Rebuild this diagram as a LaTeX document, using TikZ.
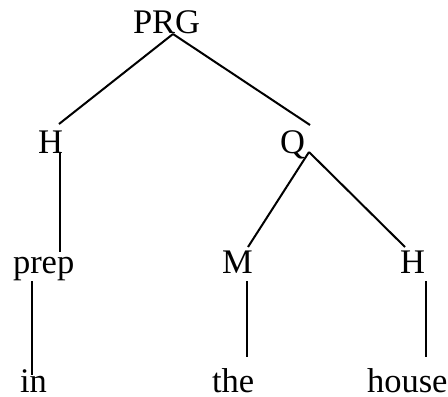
\documentclass[tikz,border=0pt]{standalone}
\usepackage{fontspec}
\setmainfont{Liberation Serif}
\usetikzlibrary{calc}
\begin{document}
\begin{tikzpicture}[x=1bp,y=-1bp,
  lbl/.style={inner sep=0pt,outer sep=0pt,anchor=base west,font=\fontsize{34.5bp}{40bp}\selectfont},
  edge/.style={line width=2bp,line cap=butt}]
\useasboundingbox (0,0) rectangle (448,396);
\node[lbl] (PRG) at (133,33) {PRG};
\node[lbl] (H1) at (38,153) {H};
\node[lbl] (Q) at (280,153) {Q};
\node[lbl] (prep) at (13,273) {prep};
\node[lbl] (M) at (222,273) {M};
\node[lbl] (H2) at (400,273) {H};
\node[lbl] (in) at (20,392) {in};
\node[lbl] (the) at (212,392) {the};
\node[lbl] (house) at (367,392) {house};
\draw[edge] ($(PRG.base west)+(40,1)$) -- ($(H1.base west)+(21,-29)$);
\draw[edge] ($(PRG.base west)+(40,1)$) -- ($(Q.base west)+(30,-28)$);
\draw[edge] ($(H1.base west)+(22,0)$) -- ($(prep.base west)+(47,-21)$);
\draw[edge] ($(Q.base west)+(29,-1)$) -- ($(M.base west)+(26,-26)$);
\draw[edge] ($(Q.base west)+(29,-1)$) -- ($(H2.base west)+(5,-26)$);
\draw[edge] ($(prep.base west)+(19,8)$) -- ($(in.base west)+(12,-17)$);
\draw[edge] ($(M.base west)+(25,8)$) -- ($(the.base west)+(35,-35)$);
\draw[edge] ($(H2.base west)+(26,8)$) -- ($(house.base west)+(59,-35)$);
\end{tikzpicture}
\end{document}
